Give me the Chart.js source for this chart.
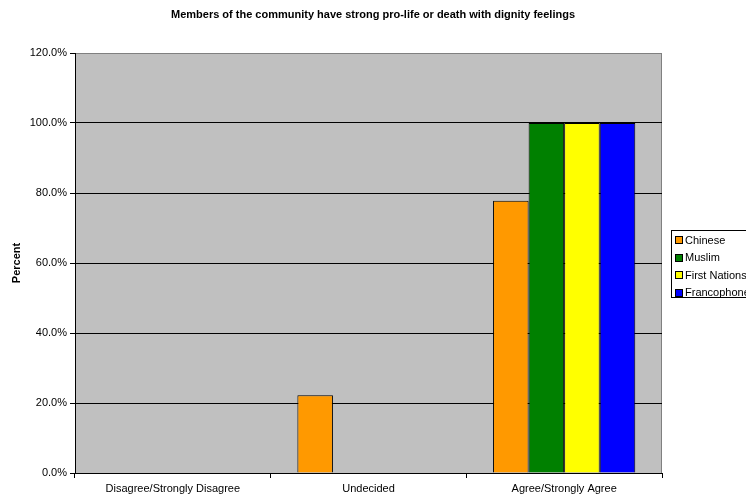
<!DOCTYPE html>
<html>
<head>
<meta charset="utf-8">
<script src="https://cdn.jsdelivr.net/npm/chart.js@4/dist/chart.umd.min.js"></script>
<style>
  html, body { margin: 0; padding: 0; background: #ffffff; }
  #wrap { position: relative; width: 746px; height: 500px; }
</style>
</head>
<body>
<div id="wrap"><canvas id="c" width="746" height="500"></canvas></div>
<script>
const chartTitle = 'Members of the community have strong pro-life or death with dignity feelings';
const categories = ['Disagree/Strongly Disagree', 'Undecided', 'Agree/Strongly Agree'];
const seriesNames = ['Chinese', 'Muslim', 'First Nations', 'Francophone'];
const seriesColors = ['#FF9900', '#008000', '#FFFF00', '#0000FF'];
const chinese = [null, 22.2, 77.8];
const muslim = [null, null, 100.0];
const firstNations = [null, null, 100.0];
const francophone = [null, null, 100.0];
const yTicks = [0, 20, 40, 60, 80, 100, 120];

const seriesValues = [chinese, muslim, firstNations, francophone];
const FONT = '"Liberation Sans", Arial, sans-serif';

// Grey plot area with a thin darker frame, drawn under the bars
const plotBackground = {
  id: 'plotBackground',
  beforeDraw(chart) {
    const { ctx, chartArea: a } = chart;
    ctx.save();
    ctx.fillStyle = '#C0C0C0';
    ctx.fillRect(a.left, a.top, a.right - a.left, a.bottom - a.top);
    ctx.strokeStyle = '#808080';
    ctx.lineWidth = 1;
    ctx.strokeRect(a.left + 0.5, a.top + 0.5, a.right - a.left - 1, a.bottom - a.top);
    ctx.restore();
  }
};

// Title across the top and the boxed legend at the right edge
const decorations = {
  id: 'decorations',
  afterDraw(chart) {
    const { ctx } = chart;
    ctx.save();
    ctx.fillStyle = '#000';
    ctx.font = 'bold 11px ' + FONT;
    ctx.textAlign = 'center';
    ctx.textBaseline = 'middle';
    ctx.fillText(chartTitle, 373, 15);

    // legend box
    const bx = 671.5, by = 230.5, bw = 90, bh = 67;
    ctx.fillStyle = '#fff';
    ctx.fillRect(bx, by, bw, bh);
    ctx.strokeStyle = '#000';
    ctx.lineWidth = 1;
    ctx.strokeRect(bx, by, bw, bh);
    ctx.font = '11px ' + FONT;
    ctx.textAlign = 'left';
    chart.data.datasets.forEach((ds, i) => {
      const cy = 240 + i * 17.6;
      ctx.fillStyle = ds.backgroundColor;
      ctx.fillRect(675.5, Math.round(cy) - 3.5, 7, 7);
      ctx.strokeStyle = '#000';
      ctx.strokeRect(675.5, Math.round(cy) - 3.5, 7, 7);
      ctx.fillStyle = '#000';
      ctx.fillText(ds.label, 685, cy + 0.5);
    });
    ctx.restore();
  }
};

new Chart(document.getElementById('c'), {
  type: 'bar',
  data: {
    labels: categories,
    datasets: seriesNames.map((name, i) => ({
      label: name,
      data: seriesValues[i],
      backgroundColor: seriesColors[i],
      borderColor: '#000',
      borderWidth: 1,
      categoryPercentage: 0.727,
      barPercentage: 1.0
    }))
  },
  options: {
    responsive: false,
    animation: false,
    devicePixelRatio: 1,
    layout: { padding: { top: 53, right: 84, left: 0, bottom: 0 } },
    plugins: {
      legend: { display: false },
      title: { display: false },
      tooltip: { enabled: false }
    },
    scales: {
      x: {
        offset: true,
        border: { color: '#000', width: 1 },
        grid: { drawOnChartArea: false, tickLength: 5, color: '#000', offset: true },
        ticks: { color: '#000', font: { family: FONT, size: 11 }, padding: 4, maxRotation: 0 },
        afterFit(s) { s.height = 27; }
      },
      y: {
        min: 0,
        max: 120,
        afterBuildTicks(s) { s.ticks = yTicks.map(v => ({ value: v })); },
        border: { color: '#000', width: 1 },
        grid: {
          color: ctx => (ctx.tick && ctx.tick.value === 120 ? 'rgba(0,0,0,0)' : '#000'),
          tickColor: '#000',
          tickLength: 5
        },
        ticks: {
          color: '#000',
          font: { family: FONT, size: 11 },
          padding: 3,
          callback: v => Number(v).toFixed(1) + '%'
        },
        title: {
          display: true,
          text: 'Percent',
          color: '#000',
          font: { family: FONT, size: 11, weight: 'bold' },
          padding: { top: 10, bottom: 0 }
        },
        afterFit(s) { s.width = 75; }
      }
    }
  },
  plugins: [plotBackground, decorations]
});
</script>
</body>
</html>
